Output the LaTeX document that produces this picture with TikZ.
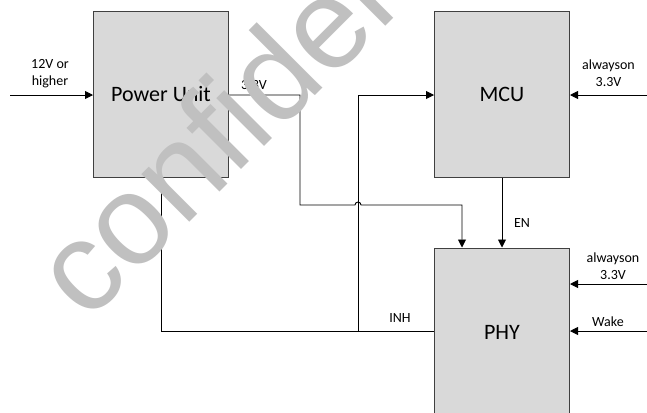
\documentclass[tikz,border=0pt]{standalone}
\usepackage{fontspec}
\setmainfont{Carlito}
\newfontfamily\wmfont{Liberation Sans}
\usetikzlibrary{arrows.meta}
\definecolor{boxfill}{RGB}{217,217,217}
\definecolor{boxline}{RGB}{64,64,64}
\definecolor{wm}{RGB}{192,192,192}
\begin{document}
\begin{tikzpicture}[x=1bp,y=-1bp,
  block/.style={draw=boxline, fill=boxfill, line width=1bp, minimum width=135bp, minimum height=166bp, inner sep=0pt, font=\fontsize{22bp}{26bp}\selectfont},
  wire/.style={draw=black, line width=0.9bp},
  arr/.style={wire, -{Triangle[length=8bp,width=8bp]}},
  lbl/.style={font=\fontsize{14bp}{17bp}\selectfont, align=center, inner sep=0pt}]
\fill[white] (0,0) rectangle (647,412);
\useasboundingbox (0,0) rectangle (647,412);
\clip (0,0) rectangle (647,412);
% blocks
\node[block] (PU) at (161,94) {Power Unit};
\node[block] (MCU) at (502,94) {MCU};
\node[block, minimum height=168bp] (PHY) at (502,332) {PHY};
% free ends and bends
\coordinate (inL) at (10,95);
\coordinate (inM) at (647,95);
\coordinate (inP1) at (647,284);
\coordinate (inP2) at (647,331);
\coordinate (b1) at (300,95);
\coordinate (b2) at (300,205);
\coordinate (hop) at (358,205);
\coordinate (b3) at (462,205);
\coordinate (c1) at (162,331);
\coordinate (c2) at (358,331);
\coordinate (c3) at (358,95);
% connectors
\draw[arr] (inL) -- (PU.west |- inL);
\draw[arr] (inM) -- (MCU.east |- inM);
\draw[arr] (inP1) -- (PHY.east |- inP1);
\draw[arr] (inP2) -- (PHY.east |- inP2);
\draw[arr] (MCU.south) -- (PHY.north);
\draw[wire] (PU.south) -- (PU.south |- c1) -- (PHY.west |- c1);
\draw[arr] (c2) -- (c3) -- (MCU.west |- c3);
\draw[arr] (PU.east |- b1) -- (b1) -- (b2) -- ([xshift=-3bp]hop) arc[start angle=180, end angle=0, radius=3bp] -- (b3) -- (b3 |- PHY.north);
% labels
\node[lbl] (l12) at (50,73.5) {12V or\\higher};
\node[lbl] (l33) at (254,85) {3.3V};
\node[lbl] (la1) at (608.5,73.5) {alwayson\\3.3V};
\node[lbl] (len) at (522,223) {EN};
\node[lbl] (la2) at (613,266.5) {alwayson\\3.3V};
\node[lbl] (lw) at (608,322) {Wake};
\node[lbl] (linh) at (400,318) {INH};
% watermark
\node[text=wm, font=\wmfont\fontsize{128bp}{128bp}\selectfont, anchor=base west, rotate=45, inner sep=0pt] (wmk) at (87.5,324) {confidential};
\end{tikzpicture}
\end{document}
